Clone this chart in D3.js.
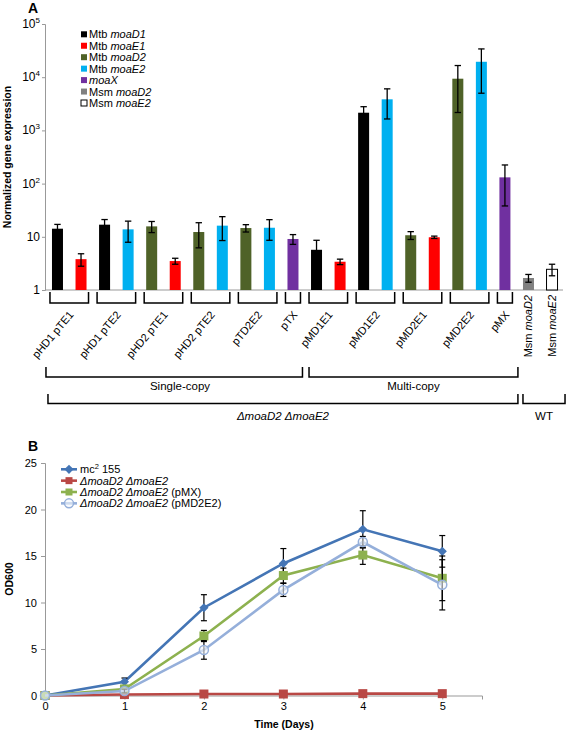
<!DOCTYPE html>
<html><head><meta charset="utf-8">
<script src="https://cdn.jsdelivr.net/npm/d3@7"></script>
<style>body{margin:0;background:#fff;} svg{font-family:"Liberation Sans",Arial,sans-serif;display:block}</style>
</head><body><script>
// ---------- Panel A data ----------
const seriesNames = ["Mtb moaD1","Mtb moaE1","Mtb moaD2","Mtb moaE2","moaX","Msm moaD2","Msm moaE2"];
const seriesColors = ["#000000","#ff0000","#4f6228","#00b0f0","#7030a0","#808080","#ffffff"];
const barSeries = [0,1,0,3,2,1,2,3,2,3,4,0,1,0,3,2,1,2,3,4,5,6];
const barValues = [14.2,3.8,16.9,13.8,15.7,3.5,12.3,16.2,14.6,14.8,9.1,5.7,3.4,2150,3840,10.7,9.8,9370,19500,131,1.68,2.45];
const barErrors = [2.9,1.0,4.2,5.9,3.7,0.45,6.1,7.7,2.3,6.2,1.9,2.9,0.4,640,2200,1.8,0.5,7200,14500,93,0.28,0.6];
const groupLabels = ["pHD1 pTE1","pHD1 pTE2","pHD2 pTE1","pHD2 pTE2","pTD2E2","pTX","pMD1E1","pMD1E2","pMD2E1","pMD2E2","pMX"];
const groupStart = [0,2,4,6,8,10,11,13,15,17,19];
const groupEnd   = [1,3,5,7,9,10,12,14,16,18,19];
const wtLabels = [["Msm ","moaD2"],["Msm ","moaE2"]];
const wtSlots = [20,21];
const yTicksA = [1,10,100,1000,10000,100000];

// ---------- Panel B data ----------
const days = [0,1,2,3,4,5];
const growthNames = ["mc² 155","ΔmoaD2 ΔmoaE2","ΔmoaD2 ΔmoaE2 (pMX)","ΔmoaD2 ΔmoaE2 (pMD2E2)"];
const growthColors = ["#4475b5","#b94845","#8db14f","#95afda"];
const growthMarkers = ["diamond","square","square","circle"];
const odMc2    = [0,1.48,9.44,14.2,17.87,15.5];
const odKO     = [0,0.1,0.16,0.16,0.2,0.2];
const odPMX    = [0,0.7,6.4,12.9,15.1,12.6];
const odPMD2E2 = [0,0.48,4.9,11.35,16.5,11.9];
const errMc2    = [0,0.4,1.4,1.6,2.0,1.7];
const errKO     = [0,0,0,0,0,0];
const errPMX    = [0,0.2,0.6,0.8,1.0,2.4];
const errPMD2E2 = [0,0.2,1.0,0.7,0.6,2.7];
const yTicksB = [0,5,10,15,20,25];

const svg = d3.select("body").append("svg").attr("width",567).attr("height",730);

// ================= PANEL A =================
const yA = d3.scaleLog().domain([1,1e5]).range([290,24]);
const xA = d3.scalePoint().domain(d3.range(barValues.length)).range([45.7,563.8]).padding(0.5);
const bw = 11;

svg.append("text").attr("x",28).attr("y",13).attr("font-weight","bold").attr("font-size",14).text("A");

// axes
const axA = svg.append("g").attr("transform","translate(45,0)")
  .call(d3.axisLeft(yA).tickValues(yTicksA).tickSize(3).tickFormat(""));
axA.select(".domain").attr("stroke","#999");
axA.selectAll(".tick line").attr("stroke","#999");
yTicksA.forEach(v=>{
  const e = Math.round(Math.log10(v));
  const t = svg.append("text").attr("x",40).attr("y",yA(v)+4).attr("text-anchor","end").attr("font-size",12);
  if (e===0) t.text("1");
  else if (e===1) t.text("10");
  else { t.append("tspan").text("10"); t.append("tspan").attr("font-size",8).attr("dy",-5).text(e); }
});
svg.append("line").attr("x1",45).attr("x2",563).attr("y1",yA(1)).attr("y2",yA(1)).attr("stroke","#999");

svg.append("text").attr("transform",`translate(11,157) rotate(-90)`).attr("text-anchor","middle")
  .attr("font-weight","bold").attr("font-size",10.5).text("Normalized gene expression");

// bars
svg.append("g").selectAll("rect").data(barValues).join("rect")
  .attr("x",(d,i)=>xA(i)-bw/2).attr("width",bw)
  .attr("y",d=>yA(d)).attr("height",d=>yA(1)-yA(d))
  .attr("fill",(d,i)=>seriesColors[barSeries[i]])
  .attr("stroke",(d,i)=>barSeries[i]===6?"#000":"none").attr("stroke-width",1);
// error bars
const eg = svg.append("g").attr("stroke","#000").attr("stroke-width",1.3);
barValues.forEach((v,i)=>{
  const lo = Math.max(v-barErrors[i],1.0001), hi = v+barErrors[i], cx = xA(i);
  eg.append("line").attr("x1",cx).attr("x2",cx).attr("y1",yA(lo)).attr("y2",yA(hi));
  eg.append("line").attr("x1",cx-3.2).attr("x2",cx+3.2).attr("y1",yA(hi)).attr("y2",yA(hi));
  eg.append("line").attr("x1",cx-3.2).attr("x2",cx+3.2).attr("y1",yA(lo)).attr("y2",yA(lo));
});

// legend A
seriesNames.forEach((n,i)=>{
  const y = 34.3 + i*11.45;
  svg.append("rect").attr("x",81).attr("y",y-3).attr("width",6).attr("height",6)
    .attr("fill",seriesColors[i]).attr("stroke",i===6?"#000":"none");
  const t = svg.append("text").attr("x",89).attr("y",y+4).attr("font-size",11);
  if (n.startsWith("Mtb ")||n.startsWith("Msm ")) {
    t.append("tspan").text(n.slice(0,4));
    t.append("tspan").attr("font-style","italic").text(n.slice(4));
  } else t.append("tspan").attr("font-style","italic").text(n);
});

// group brackets
const bk = svg.append("g").attr("stroke","#000").attr("stroke-width",1.5).attr("fill","none");
groupLabels.forEach((g,i)=>{
  const x0 = xA(groupStart[i]) - bw/2 - 2, x1 = xA(groupEnd[i]) + bw/2 + 2;
  bk.append("path").attr("d",`M${x0},292V303H${x1}V292`);
  const cx = (xA(groupStart[i])+xA(groupEnd[i]))/2;
  svg.append("text").attr("transform",`translate(${cx+5},315) rotate(-50)`).attr("text-anchor","end")
    .attr("font-size",11).text(g);
});
wtSlots.forEach((s,i)=>{
  const t = svg.append("text").attr("transform",`translate(${xA(s)+4},295) rotate(-90)`).attr("text-anchor","end").attr("font-size",11);
  t.append("tspan").text(wtLabels[i][0]);
  t.append("tspan").attr("font-style","italic").text(wtLabels[i][1]);
});

// big brackets
function bigBracket(x0,x1,yTop,yBot,label,labelY,italic,lx){
  bk.append("path").attr("d",`M${x0},${yTop}V${yBot}H${x1}V${yTop}`);
  svg.append("text").attr("x",lx!==undefined?lx:(x0+x1)/2).attr("y",labelY).attr("text-anchor","middle")
    .attr("font-size",11.5).attr("font-style",italic?"italic":"normal").text(label);
}
bigBracket(xA(0)-11.5, xA(10)+9.5, 367, 377, "Single-copy", 390, false, 180);
bigBracket(xA(11)-7.5, xA(19)+13, 367, 377, "Multi-copy", 390, false);
bigBracket(xA(0)-9.5, xA(19)+13, 394, 403.5, "ΔmoaD2 ΔmoaE2", 420, true);
bigBracket(xA(20)-5.5, xA(21)+13, 394, 403.5, "WT", 420, false);

// ================= PANEL B =================
const xB = d3.scaleLinear().domain([0,5.5]).range([45,482]);
const yB = d3.scaleLinear().domain([0,25]).range([695.5,463]);

svg.append("text").attr("x",28).attr("y",451).attr("font-weight","bold").attr("font-size",14).text("B");

const axBy = svg.append("g").attr("transform","translate(45,0)")
  .call(d3.axisLeft(yB).tickValues(yTicksB).tickSize(4).tickPadding(4).tickFormat(d3.format("d")));
const axBx = svg.append("g").attr("transform",`translate(0,${yB(0)})`)
  .call(d3.axisBottom(xB).tickValues(days).tickSize(4).tickPadding(3).tickFormat(d3.format("d")));
[axBy,axBx].forEach(a=>{
  a.select(".domain").attr("stroke","#999");
  a.selectAll(".tick line").attr("stroke","#999");
  a.selectAll(".tick text").attr("font-size",11).attr("fill","#000").attr("font-family","Liberation Sans, Arial, sans-serif");
});
svg.append("text").attr("transform","translate(13,579) rotate(-90)").attr("text-anchor","middle")
  .attr("font-weight","bold").attr("font-size",10.5).text("OD600");
svg.append("text").attr("x",284).attr("y",728).attr("text-anchor","middle")
  .attr("font-weight","bold").attr("font-size",10.5).text("Time (Days)");

const growthVals = [odMc2,odKO,odPMX,odPMD2E2];
const growthErrs = [errMc2,errKO,errPMX,errPMD2E2];
function marker(g,type,x,y,color){
  if (type==="diamond") g.append("path").attr("d",d3.symbol(d3.symbolSquare,42)()).attr("transform",`translate(${x},${y}) rotate(45)`).attr("fill",color);
  else if (type==="square") g.append("rect").attr("x",x-4.5).attr("y",y-4.5).attr("width",9).attr("height",9).attr("fill",color);
  else g.append("circle").attr("cx",x).attr("cy",y).attr("r",4.5).attr("fill","#f3f6fb").attr("fill-opacity",0.6).attr("stroke",color).attr("stroke-width",1.5);
}
const line = d3.line().x((d,i)=>xB(days[i])).y(d=>yB(d));
growthVals.forEach((vals,s)=>{
  const g = svg.append("g");
  g.append("path").attr("d",line(vals)).attr("fill","none").attr("stroke",growthColors[s]).attr("stroke-width",2.6);
  vals.forEach((v,i)=>{
    const e = growthErrs[s][i]; if (e<=0) return;
    const cx = xB(days[i]);
    const eb = g.append("g").attr("stroke","#000").attr("stroke-width",1.2);
    eb.append("line").attr("x1",cx).attr("x2",cx).attr("y1",yB(v-e)).attr("y2",yB(v+e));
    eb.append("line").attr("x1",cx-3).attr("x2",cx+3).attr("y1",yB(v-e)).attr("y2",yB(v-e));
    eb.append("line").attr("x1",cx-3).attr("x2",cx+3).attr("y1",yB(v+e)).attr("y2",yB(v+e));
  });
  vals.forEach((v,i)=>marker(g,growthMarkers[s],xB(days[i]),yB(v),growthColors[s]));
});

// legend B
growthNames.forEach((n,i)=>{
  const y = 469.3 + i*11.35;
  svg.append("line").attr("x1",61).attr("x2",77).attr("y1",y).attr("y2",y).attr("stroke",growthColors[i]).attr("stroke-width",2.6);
  const g = svg.append("g");
  marker(g,growthMarkers[i],69,y,growthColors[i]);
  g.selectAll("rect").attr("x",69-3.5).attr("y",y-3.5).attr("width",7).attr("height",7);
  const t = svg.append("text").attr("x",80).attr("y",y+4).attr("font-size",11);
  if (i===0) {
    t.append("tspan").text("mc");
    t.append("tspan").attr("font-size",7.5).attr("dy",-4).text("2");
    t.append("tspan").attr("dy",4).text(" 155");
  } else {
    const k = n.indexOf(" (");
    t.append("tspan").attr("font-style","italic").text(k<0?n:n.slice(0,k));
    if (k>=0) t.append("tspan").text(n.slice(k));
  }
});
</script></body></html>
